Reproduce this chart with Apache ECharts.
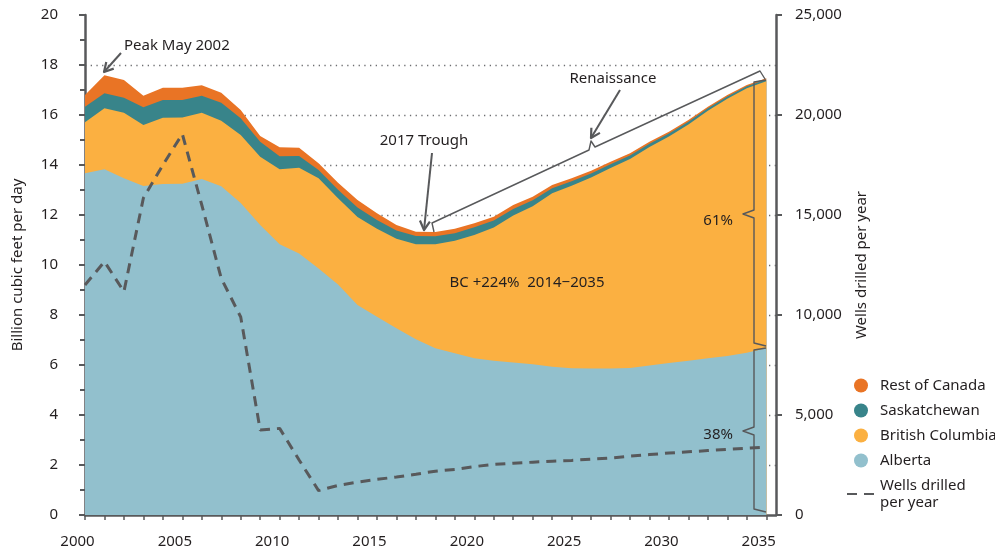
<!DOCTYPE html>
<html>
<head>
<meta charset="utf-8">
<script src="https://cdn.jsdelivr.net/npm/echarts@6/dist/echarts.min.js"></script>
<style>
    html, body { margin: 0; padding: 0; background: #fff; }
    #chart { width: 995px; height: 552px; }
</style>
</head>
<body>
<div id="chart"></div>
<script>
var years = [2000, 2001, 2002, 2003, 2004, 2005, 2006, 2007, 2008, 2009,
    2010, 2011, 2012, 2013, 2014, 2015, 2016, 2017, 2018, 2019,
    2020, 2021, 2022, 2023, 2024, 2025, 2026, 2027, 2028, 2029,
    2030, 2031, 2032, 2033, 2034, 2035];

// billion cubic feet per day
var alberta = [13.67, 13.83, 13.47, 13.16, 13.24, 13.25, 13.44, 13.15, 12.48, 11.6,
    10.83, 10.46, 9.86, 9.22, 8.4, 7.93, 7.47, 7.03, 6.67, 6.47,
    6.27, 6.17, 6.1, 6.03, 5.93, 5.87, 5.86, 5.86, 5.88, 5.98,
    6.08, 6.17, 6.27, 6.36, 6.49, 6.67];
var britishColumbia = [2.04, 2.44, 2.62, 2.44, 2.65, 2.65, 2.65, 2.62, 2.72, 2.73,
    3.0, 3.43, 3.61, 3.45, 3.52, 3.52, 3.58, 3.8, 4.16, 4.5,
    4.93, 5.33, 5.88, 6.32, 6.94, 7.3, 7.64, 8.02, 8.36, 8.74,
    9.06, 9.45, 9.9, 10.29, 10.58, 10.68];
var saskatchewan = [0.62, 0.6, 0.6, 0.71, 0.71, 0.7, 0.68, 0.72, 0.67, 0.6,
    0.52, 0.47, 0.33, 0.34, 0.38, 0.35, 0.33, 0.33, 0.32, 0.3,
    0.31, 0.28, 0.26, 0.24, 0.2, 0.18, 0.16, 0.15, 0.14, 0.13,
    0.12, 0.11, 0.1, 0.09, 0.08, 0.07];
var restOfCanada = [0.47, 0.72, 0.71, 0.46, 0.49, 0.49, 0.42, 0.4, 0.33, 0.23,
    0.36, 0.33, 0.27, 0.28, 0.3, 0.27, 0.22, 0.17, 0.17, 0.18,
    0.16, 0.15, 0.16, 0.14, 0.13, 0.12, 0.11, 0.1, 0.09, 0.08,
    0.07, 0.07, 0.06, 0.06, 0.05, 0.05];

// wells drilled per year (right axis)
var wells = [11500, 12670, 11170, 15850, 17500, 19050, 15500, 11830, 9900, 4250,
    4330, 2750, 1220, 1480, 1640, 1780, 1900, 2040, 2190, 2280,
    2420, 2530, 2590, 2640, 2690, 2730, 2790, 2850, 2940, 3020,
    3100, 3160, 3220, 3280, 3340, 3390];

var leftTicks = [0, 2, 4, 6, 8, 10, 12, 14, 16, 18, 20];
var rightTicks = [0, 5000, 10000, 15000, 20000, 25000];

var FONT = 'Noto Sans';
var INK = '#231f20';
var AXIS = '#58595b';

// stack by hand: a value x axis would make echarts stack the x dimension
function cumulate() {
    var lists = arguments;
    return years.map(function (y, i) {
        var sum = 0;
        for (var k = 0; k < lists.length; k++) sum += lists[k][i];
        return [y, Math.round(sum * 100) / 100];
    });
}

function areaSeries(name, data, color) {
    return {
        name: name,
        type: 'line',
        symbol: 'none',
        silent: true,
        lineStyle: { width: 0 },
        itemStyle: { color: color },
        areaStyle: { color: color, opacity: 1 },
        data: data
    };
}

function txt(text, x, y, align) {
    return {
        type: 'text', z: 100,
        style: {
            text: text, x: x, y: y,
            fill: INK, font: '15px "' + FONT + '"',
            textAlign: align || 'center', textVerticalAlign: 'middle'
        }
    };
}

function line(points, width) {
    return {
        type: 'polyline', z: 100,
        shape: { points: points },
        style: { stroke: AXIS, lineWidth: width || 1.4, fill: null, lineJoin: 'round' }
    };
}

function arrow(x1, y1, x2, y2) {
    var dx = x2 - x1, dy = y2 - y1;
    var len = Math.sqrt(dx * dx + dy * dy);
    var ux = dx / len, uy = dy / len;
    var bx = x2 - ux * 9, by = y2 - uy * 9;
    return [
        line([[x1, y1], [x2, y2]], 2),
        line([[bx + uy * 5, by - ux * 5], [x2, y2], [bx - uy * 5, by + ux * 5]], 2.2)
    ];
}

var chart = echarts.init(document.getElementById('chart'), null, { renderer: 'canvas' });

var graphics = []
    .concat([txt('Peak May 2002', 124, 46, 'left')])
    .concat(arrow(121, 53, 104, 72))
    .concat([txt('2017 Trough', 424, 141)])
    .concat(arrow(432, 153, 424, 230))
    .concat([txt('Renaissance', 613, 79)])
    .concat(arrow(620, 90, 591, 138))
    .concat([
        // renaissance brace
        line([[434, 232], [432, 223], [589, 150], [591, 141], [595, 147], [760, 71], [765, 79]]),
        // 61% brace
        line([[766, 80], [754, 82], [754, 210], [743, 214], [754, 218], [754, 343], [766, 346]]),
        // 38% brace
        line([[766, 348], [754, 350], [754, 427], [743, 431], [754, 435], [754, 509], [766, 512]]),
        txt('61%', 733, 221, 'right'),
        txt('38%', 733, 435, 'right'),
        txt('BC +224%  2014\u22122035', 527, 283)
    ]);

var option = {
    animation: false,
    textStyle: { fontFamily: FONT, color: INK },
    grid: { left: 85, right: 219, top: 15, bottom: 37, containLabel: false, outerBoundsMode: 'none' },
    legend: {
        orient: 'vertical',
        left: 846,
        top: 377,
        padding: 0,
        itemWidth: 28,
        itemHeight: 14,
        itemGap: 8,
        selectedMode: false,
        textStyle: { fontFamily: FONT, fontSize: 15, color: INK, lineHeight: 17 },
        formatter: function (name) {
            return name === 'Wells drilled per year' ? 'Wells drilled\nper year' : name;
        },
        data: [
            { name: 'Rest of Canada', icon: 'circle' },
            { name: 'Saskatchewan', icon: 'circle' },
            { name: 'British Columbia', icon: 'circle' },
            { name: 'Alberta', icon: 'circle' },
            { name: 'Wells drilled per year', itemStyle: { color: 'rgba(0,0,0,0)', borderWidth: 0, opacity: 0 } }
        ]
    },
    xAxis: {
        type: 'value',
        min: 2000,
        max: 2035.5,
        interval: 1,
        axisLine: { show: true, lineStyle: { color: AXIS, width: 2.5 } },
        axisTick: { show: true, length: 5, lineStyle: { color: AXIS, width: 1.5 } },
        splitLine: { show: false },
        axisLabel: {
            margin: 19,
            fontSize: 15,
            fontFamily: FONT,
            color: INK,
            padding: [0, 15, 0, 0],
            showMaxLabel: false,
            formatter: function (v) { return v % 5 === 0 ? String(v) : ''; }
        }
    },
    yAxis: [
        {
            type: 'value',
            min: leftTicks[0],
            max: leftTicks[leftTicks.length - 1],
            interval: leftTicks[1] - leftTicks[0],
            name: 'Billion cubic feet per day',
            nameLocation: 'middle',
            nameGap: 60,
            nameTextStyle: { fontFamily: FONT, fontSize: 15, color: INK },
            axisLine: { show: true, lineStyle: { color: AXIS, width: 2.5 } },
            axisTick: { show: true, length: 6, lineStyle: { color: AXIS, width: 2 } },
            minorTick: { show: true, splitNumber: 2, length: 5, lineStyle: { color: AXIS, width: 2 } },
            axisLabel: { margin: 27, fontSize: 15, fontFamily: FONT, color: INK },
            splitLine: {
                show: true,
                showMinLine: false,
                showMaxLine: false,
                lineStyle: { color: '#6d6e71', width: 1.3, type: [1.3, 4.4] }
            }
        },
        {
            type: 'value',
            position: 'right',
            min: rightTicks[0],
            max: rightTicks[rightTicks.length - 1],
            interval: rightTicks[1] - rightTicks[0],
            name: 'Wells drilled per year',
            nameLocation: 'middle',
            nameGap: 78,
            nameTextStyle: { fontFamily: FONT, fontSize: 15, color: INK },
            axisLine: { show: true, lineStyle: { color: AXIS, width: 2.5 } },
            axisTick: { show: true, length: 6, lineStyle: { color: AXIS, width: 2 } },
            axisLabel: { margin: 19, fontSize: 15, fontFamily: FONT, color: INK },
            splitLine: { show: false }
        }
    ],
    series: [
        // drawn back to front: each area is the running total up to that province
        areaSeries('Rest of Canada', cumulate(alberta, britishColumbia, saskatchewan, restOfCanada), '#e97425'),
        areaSeries('Saskatchewan', cumulate(alberta, britishColumbia, saskatchewan), '#38848a'),
        areaSeries('British Columbia', cumulate(alberta, britishColumbia), '#fbb041'),
        areaSeries('Alberta', cumulate(alberta), '#92c0cd'),
        {
            name: 'Wells drilled per year',
            type: 'line',
            yAxisIndex: 1,
            symbol: 'none',
            silent: true,
            z: 5,
            itemStyle: { color: AXIS },
            lineStyle: { color: AXIS, width: 3, type: [10, 7] },
            data: years.map(function (y, i) { return [y, wells[i]]; })
        }
    ],
    graphic: graphics
};
chart.setOption(option);
</script>
</body>
</html>
